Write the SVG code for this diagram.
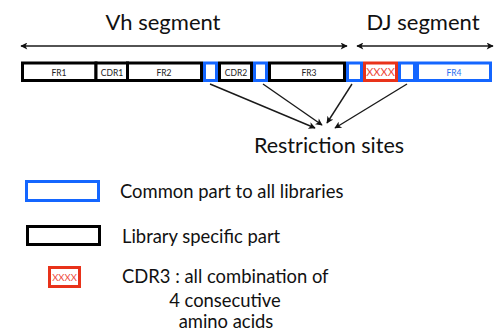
<svg xmlns="http://www.w3.org/2000/svg" width="502" height="334" viewBox="0 0 502 334">
  <defs>
    <style>
      .t { font-family: Lato, "Open Sans", "DejaVu Sans", sans-serif; fill: #111; }
      .big { font-size: 22px; }
      .leg { font-size: 18.4px; }
      .cell { font-family: Lato, "Open Sans", sans-serif; font-size: 8.5px; fill: #222; text-anchor: middle; }
      .blk { fill: #fff; stroke: #000; stroke-width: 3; }
      .blu { fill: #fff; stroke: #1466ff; stroke-width: 3; }
      .red { fill: #fff; stroke: #e8321a; stroke-width: 3; }
      .ln { stroke: #1a1a1a; stroke-width: 1.4; fill: none; }
    </style>
    <marker id="ah" viewBox="0 0 10 10" refX="9" refY="5" markerWidth="8" markerHeight="7" markerUnits="userSpaceOnUse" orient="auto-start-reverse">
      <path d="M0,0 L10,5 L0,10 L2.5,5 z" fill="#111"/>
    </marker>
  </defs>
  <rect width="502" height="334" fill="#fff"/>

  <!-- segment titles -->
  <text class="t big" x="163" y="30" text-anchor="middle">Vh segment</text>
  <text class="t big" x="423" y="30" text-anchor="middle">DJ segment</text>

  <!-- segment span arrows and restriction-site pointers -->
  <g id="connectors">
    <line class="ln" x1="21" y1="46" x2="347" y2="46" marker-start="url(#ah)" marker-end="url(#ah)"/>
    <line class="ln" x1="357" y1="46" x2="493" y2="46" marker-start="url(#ah)" marker-end="url(#ah)"/>
    <line class="ln" x1="210" y1="84" x2="315" y2="128" marker-end="url(#ah)"/>
    <line class="ln" x1="263" y1="84" x2="322" y2="125" marker-end="url(#ah)"/>
    <line class="ln" x1="352" y1="84" x2="327" y2="123" marker-end="url(#ah)"/>
    <line class="ln" x1="407" y1="84" x2="335" y2="128" marker-end="url(#ah)"/>
  </g>

  <!-- antibody gene construct -->
  <g id="FR1"><rect class="blk" x="22.5" y="63" width="73.5" height="17.5"/><text class="cell" x="59" y="75.5">FR1</text></g>
  <g id="CDR1"><rect class="blk" x="96" y="63" width="31.5" height="17.5"/><text class="cell" x="112" y="75.5">CDR1</text></g>
  <g id="FR2"><rect class="blk" x="127.5" y="63" width="74" height="17.5"/><text class="cell" x="164" y="75.5">FR2</text></g>
  <g id="site1"><rect class="blu" x="204.5" y="63" width="12" height="17.5"/></g>
  <g id="CDR2"><rect class="blk" x="219.5" y="63" width="32" height="17.5"/><text class="cell" x="236" y="75.5">CDR2</text></g>
  <g id="site2"><rect class="blu" x="254.5" y="63" width="12" height="17.5"/></g>
  <g id="FR3"><rect class="blk" x="269.5" y="63" width="75" height="17.5"/><text class="cell" x="309" y="75.5">FR3</text></g>
  <g id="site3"><rect class="blu" x="347.5" y="63" width="14" height="17.5"/></g>
  <g id="CDR3"><rect class="red" x="364.5" y="63" width="32" height="17.5"/><text class="cell" x="380.5" y="76" style="fill:#ee4a3a;font-size:11px">XXXX</text></g>
  <g id="site4"><rect class="blu" x="399.5" y="63" width="15" height="17.5"/></g>
  <g id="FR4"><rect class="blu" x="417.5" y="63" width="73" height="17.5"/><text class="cell" x="454" y="75.5" style="fill:#2a6ff0">FR4</text></g>

  <g id="restriction-label">
    <text class="t big" x="329" y="153" text-anchor="middle" style="font-size:21.5px">Restriction sites</text>
  </g>

  <!-- legend -->
  <g id="legend-common">
    <rect class="blu" x="26.5" y="181.5" width="72" height="19"/>
    <text class="t leg" x="120" y="198">Common part to all libraries</text>
  </g>
  <g id="legend-specific">
    <rect class="blk" x="27.5" y="226.5" width="72" height="18"/>
    <text class="t leg" x="122" y="243">Library specific part</text>
  </g>
  <g id="legend-cdr3">
    <rect class="red" x="49.5" y="267.5" width="30" height="19"/>
    <text class="cell" x="64.5" y="280.5" style="fill:#ee4a3a;font-size:9.5px">XXXX</text>
    <text class="t leg" x="122" y="283">CDR3 : all combination of</text>
    <text class="t leg" x="225" y="307" text-anchor="middle">4 consecutive</text>
    <text class="t leg" x="226" y="328" text-anchor="middle">amino acids</text>
  </g>
</svg>
